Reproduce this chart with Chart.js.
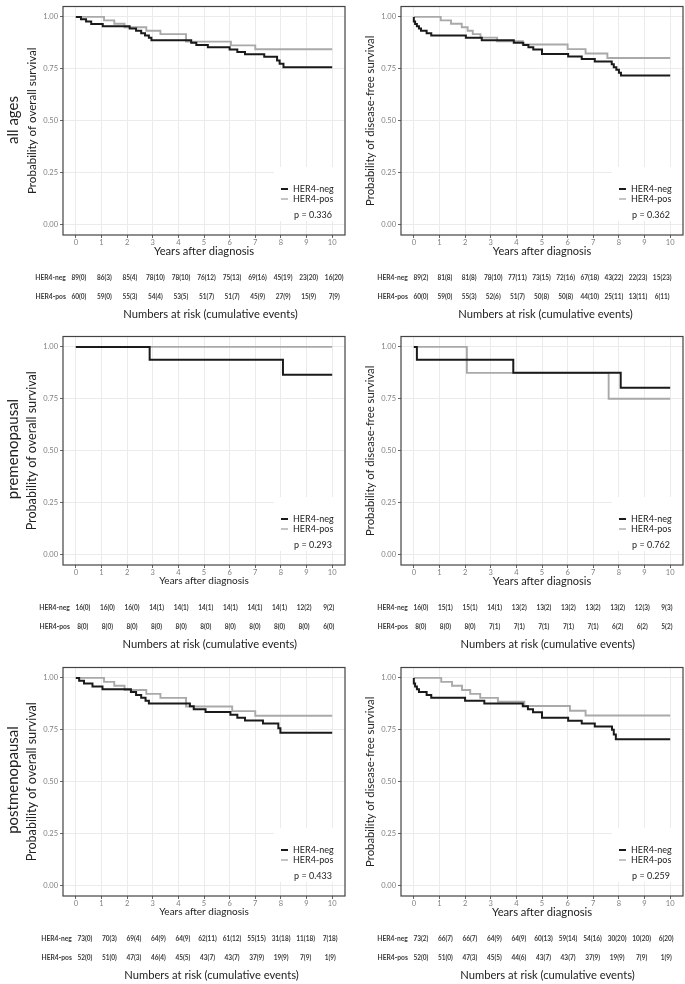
<!DOCTYPE html>
<html>
<head>
<meta charset="utf-8">
<title>HER4 survival curves</title>
<script src="https://cdn.jsdelivr.net/npm/chart.js@4.4.1/dist/chart.umd.min.js"></script>
<style>
  body { margin: 0; width: 685px; height: 984px; position: relative; overflow: hidden; background: #fff; font-family: Lato, sans-serif; }
  canvas { position: absolute; }
  .rowLabel { position: absolute; left: 12px; transform: translate(-50%, -50%) rotate(-90deg); font-size: 15px; color: #222; white-space: nowrap; }
</style>
</head>
<body>
<canvas id="osAll" width="327" height="323" style="left:20px;top:0px"></canvas>
<canvas id="dfsAll" width="327" height="323" style="left:358px;top:0px"></canvas>
<canvas id="osPre" width="327" height="323" style="left:20px;top:330px"></canvas>
<canvas id="dfsPre" width="327" height="323" style="left:358px;top:330px"></canvas>
<canvas id="osPost" width="327" height="323" style="left:20px;top:661px"></canvas>
<canvas id="dfsPost" width="327" height="323" style="left:358px;top:661px"></canvas>
<div class="rowLabel" style="top:120px">all ages</div>
<div class="rowLabel" style="top:449px">premenopausal</div>
<div class="rowLabel" style="top:780px">postmenopausal</div>

<script>
// axes
const xTicks = [0, 1, 2, 3, 4, 5, 6, 7, 8, 9, 10];
const yTicks = [0, 0.25, 0.5, 0.75, 1];
const groupLabels = ['HER4-neg', 'HER4-pos'];
const pValues = [0.336, 0.362, 0.293, 0.762, 0.433, 0.259];

// overall survival, all ages
const osAllNegTime = [0, 0.2, 0.4, 0.6, 1.05, 2.1, 2.35, 2.55, 2.7, 2.85, 2.95, 4.5, 4.7, 5.15, 6.0, 6.3, 6.6, 7.35, 7.85, 7.95, 8.1, 10];
const osAllNegSurv = [1, 0.989, 0.978, 0.966, 0.955, 0.944, 0.933, 0.921, 0.910, 0.899, 0.888, 0.876, 0.865, 0.854, 0.843, 0.831, 0.820, 0.808, 0.790, 0.775, 0.757, 0.757];
const osAllPosTime = [0, 1.1, 1.5, 1.9, 2.75, 3.3, 4.3, 6.05, 7.0, 10];
const osAllPosSurv = [1, 0.983, 0.967, 0.950, 0.933, 0.917, 0.881, 0.863, 0.844, 0.844];
const osAllNegRisk = [89, 86, 85, 78, 78, 76, 75, 69, 45, 23, 16];
const osAllNegEvents = [0, 3, 4, 10, 10, 12, 13, 16, 19, 20, 20];
const osAllPosRisk = [60, 59, 55, 54, 53, 51, 51, 45, 27, 15, 7];
const osAllPosEvents = [0, 0, 3, 4, 5, 7, 7, 9, 9, 9, 9];

// disease-free survival, all ages
const dfsAllNegTime = [0, 0, 0.05, 0.12, 0.2, 0.28, 0.5, 0.68, 2.03, 2.65, 3.9, 4.27, 4.47, 4.66, 5.0, 6.02, 6.55, 7.06, 7.72, 7.8, 7.9, 8.0, 8.08, 10];
const dfsAllNegSurv = [1, 0.978, 0.966, 0.955, 0.944, 0.933, 0.921, 0.910, 0.899, 0.888, 0.876, 0.865, 0.854, 0.843, 0.821, 0.809, 0.797, 0.785, 0.772, 0.758, 0.745, 0.731, 0.718, 0.718];
const dfsAllPosTime = [0, 1.05, 1.45, 1.87, 2.1, 2.3, 2.6, 3.25, 4.25, 6.0, 6.7, 7.55, 10];
const dfsAllPosSurv = [1, 0.983, 0.967, 0.950, 0.933, 0.917, 0.900, 0.883, 0.867, 0.845, 0.824, 0.802, 0.802];
const dfsAllNegRisk = [89, 81, 81, 78, 77, 73, 72, 67, 43, 22, 15];
const dfsAllNegEvents = [2, 8, 8, 10, 11, 15, 16, 18, 22, 23, 23];
const dfsAllPosRisk = [60, 59, 55, 52, 51, 50, 50, 44, 25, 13, 6];
const dfsAllPosEvents = [0, 0, 3, 6, 7, 8, 8, 10, 11, 11, 11];

// overall survival, premenopausal
const osPreNegTime = [0, 2.88, 8.08, 10];
const osPreNegSurv = [1, 0.9375, 0.866, 0.866];
const osPrePosTime = [0, 10];
const osPrePosSurv = [1, 1];
const osPreNegRisk = [16, 16, 16, 14, 14, 14, 14, 14, 14, 12, 9];
const osPreNegEvents = [0, 0, 0, 1, 1, 1, 1, 1, 1, 2, 2];
const osPrePosRisk = [8, 8, 8, 8, 8, 8, 8, 8, 8, 8, 6];
const osPrePosEvents = [0, 0, 0, 0, 0, 0, 0, 0, 0, 0, 0];

// disease-free survival, premenopausal
const dfsPreNegTime = [0, 0.12, 3.88, 8.07, 10];
const dfsPreNegSurv = [1, 0.9375, 0.875, 0.803, 0.803];
const dfsPrePosTime = [0, 2.07, 7.6, 10];
const dfsPrePosSurv = [1, 0.875, 0.75, 0.75];
const dfsPreNegRisk = [16, 15, 15, 14, 13, 13, 13, 13, 13, 12, 9];
const dfsPreNegEvents = [0, 1, 1, 1, 2, 2, 2, 2, 2, 3, 3];
const dfsPrePosRisk = [8, 8, 8, 7, 7, 7, 7, 7, 6, 6, 5];
const dfsPrePosEvents = [0, 0, 0, 1, 1, 1, 1, 1, 2, 2, 2];

// overall survival, postmenopausal
const osPostNegTime = [0, 0.13, 0.32, 0.65, 1.04, 2.15, 2.35, 2.55, 2.72, 2.85, 4.45, 4.6, 5.06, 6.03, 6.3, 6.6, 7.3, 7.9, 7.98, 10];
const osPostNegSurv = [1, 0.986, 0.973, 0.959, 0.945, 0.932, 0.918, 0.904, 0.890, 0.877, 0.863, 0.849, 0.836, 0.822, 0.808, 0.795, 0.780, 0.758, 0.736, 0.736];
const osPostPosTime = [0, 1.1, 1.5, 1.9, 2.75, 3.3, 4.3, 6.1, 7.0, 10];
const osPostPosSurv = [1, 0.981, 0.962, 0.942, 0.923, 0.904, 0.862, 0.840, 0.818, 0.818];
const osPostNegRisk = [73, 70, 69, 64, 64, 62, 61, 55, 31, 11, 7];
const osPostNegEvents = [0, 3, 4, 9, 9, 11, 12, 15, 18, 18, 18];
const osPostPosRisk = [52, 51, 47, 46, 45, 43, 43, 37, 19, 7, 1];
const osPostPosEvents = [0, 0, 3, 4, 5, 7, 7, 9, 9, 9, 9];

// disease-free survival, postmenopausal
const dfsPostNegTime = [0, 0, 0.05, 0.12, 0.2, 0.5, 0.68, 2.0, 2.75, 4.25, 4.45, 4.65, 5.0, 6.02, 6.55, 7.06, 7.73, 7.8, 7.88, 10];
const dfsPostNegSurv = [1, 0.973, 0.959, 0.945, 0.932, 0.918, 0.904, 0.890, 0.877, 0.863, 0.849, 0.835, 0.808, 0.794, 0.780, 0.766, 0.750, 0.727, 0.704, 0.704];
const dfsPostPosTime = [0, 1.07, 1.49, 1.88, 2.2, 2.59, 3.28, 4.31, 6.09, 6.7, 10];
const dfsPostPosSurv = [1, 0.981, 0.962, 0.942, 0.923, 0.904, 0.885, 0.865, 0.842, 0.819, 0.819];
const dfsPostNegRisk = [73, 66, 66, 64, 64, 60, 59, 54, 30, 10, 6];
const dfsPostNegEvents = [2, 7, 7, 9, 9, 13, 14, 16, 20, 20, 20];
const dfsPostPosRisk = [52, 51, 47, 45, 44, 43, 43, 37, 19, 7, 1];
const dfsPostPosEvents = [0, 0, 3, 5, 6, 7, 7, 9, 9, 9, 9];

const negColor = '#1a1a1a';
const posColor = '#a9a9a9';
const osTitle = 'Probability of overall survival';
const dfsTitle = 'Probability of disease-free survival';

// panel layout
const panels = [
    { id: 'osAll', yTitle: osTitle, yTitleSize: 11.6, xTitleSize: 11.2, shift: [3, 2], p: pValues[0],
      neg: [osAllNegTime, osAllNegSurv, osAllNegRisk, osAllNegEvents], pos: [osAllPosTime, osAllPosSurv, osAllPosRisk, osAllPosEvents] },
    { id: 'dfsAll', yTitle: dfsTitle, yTitleSize: 11.3, xTitleSize: 11, shift: [7, -8], p: pValues[1],
      neg: [dfsAllNegTime, dfsAllNegSurv, dfsAllNegRisk, dfsAllNegEvents], pos: [dfsAllPosTime, dfsAllPosSurv, dfsAllPosRisk, dfsAllPosEvents] },
    { id: 'osPre', yTitle: osTitle, yTitleSize: 12.6, xTitleSize: 10, shift: [7, -3.5], p: pValues[2],
      neg: [osPreNegTime, osPreNegSurv, osPreNegRisk, osPreNegEvents], pos: [osPrePosTime, osPrePosSurv, osPrePosRisk, osPrePosEvents] },
    { id: 'dfsPre', yTitle: dfsTitle, yTitleSize: 11.3, xTitleSize: 11, shift: [7, -3.3], p: pValues[3],
      neg: [dfsPreNegTime, dfsPreNegSurv, dfsPreNegRisk, dfsPreNegEvents], pos: [dfsPrePosTime, dfsPrePosSurv, dfsPrePosRisk, dfsPrePosEvents] },
    { id: 'osPost', yTitle: osTitle, yTitleSize: 12.6, xTitleSize: 10, shift: [9, -2], p: pValues[4],
      neg: [osPostNegTime, osPostNegSurv, osPostNegRisk, osPostNegEvents], pos: [osPostPosTime, osPostPosSurv, osPostPosRisk, osPostPosEvents] },
    { id: 'dfsPost', yTitle: dfsTitle, yTitleSize: 11.3, xTitleSize: 11.2, shift: [7, -4], p: pValues[5],
      neg: [dfsPostNegTime, dfsPostNegSurv, dfsPostNegRisk, dfsPostNegEvents], pos: [dfsPostPosTime, dfsPostPosSurv, dfsPostPosRisk, dfsPostPosEvents] }
];

function toSteps(time, surv) {
    return time.map((t, i) => ({ x: t, y: surv[i] }));
}

// legend inside panel, box frame and risk table under the axis
const kmExtras = {
    id: 'kmExtras',
    afterDatasetsDraw(chart, args, o) {
        const { ctx, chartArea: a } = chart;
        ctx.save();
        ctx.fillStyle = '#fff';
        ctx.fillRect(a.right - 71, a.bottom - 68, 71, 54);
        ctx.font = '9px Lato';
        ctx.textBaseline = 'middle';
        chart.data.datasets.forEach((ds, i) => {
            const y = a.bottom - 46 + i * 10;
            ctx.strokeStyle = ds.borderColor;
            ctx.lineWidth = i === 0 ? 2 : 1.4;
            ctx.beginPath();
            ctx.moveTo(a.right - 64, y);
            ctx.lineTo(a.right - 57, y);
            ctx.stroke();
            ctx.fillStyle = '#222';
            ctx.textAlign = 'left';
            ctx.fillText(ds.label, a.right - 52, y);
        });
        ctx.textAlign = 'right';
        ctx.fillText('p = ' + o.p.toFixed(3), a.right - 13, a.bottom - 20);
        ctx.restore();
    },
    afterDraw(chart, args, o) {
        const { ctx, chartArea: a } = chart;
        const x = chart.scales.x;
        ctx.save();
        ctx.strokeStyle = '#444';
        ctx.lineWidth = 1.2;
        ctx.strokeRect(a.left, a.top, a.width, a.height);

        const n = xTicks.length - 1;
        const colX = i => x.getPixelForValue(xTicks[i]) + o.shift[0] + (o.shift[1] - o.shift[0]) * i / n;
        const rows = [[o.negRisk, o.negEvents], [o.posRisk, o.posEvents]];
        ctx.fillStyle = '#3a3a3a';
        ctx.textBaseline = 'middle';
        rows.forEach((r, k) => {
            const y = a.bottom + 43 + k * 18.5;
            ctx.font = 'bold 6.7px Lato';
            ctx.textAlign = 'right';
            ctx.fillText(groupLabels[k], colX(0) - 13, y);
            ctx.font = 'bold 6.5px Lato';
            ctx.textAlign = 'center';
            r[0].forEach((v, i) => ctx.fillText(v + '(' + r[1][i] + ')', colX(i), y));
        });
        ctx.fillStyle = '#222';
        ctx.font = '11.2px Lato';
        ctx.fillText('Numbers at risk (cumulative events)', (colX(0) + colX(n)) / 2 + 4, a.bottom + 79);
        ctx.restore();
    }
};

function makePanel(p) {
    const ctx = document.getElementById(p.id).getContext('2d');
    return new Chart(ctx, {
        type: 'line',
        data: {
            datasets: [{
                label: groupLabels[0],
                data: toSteps(p.neg[0], p.neg[1]),
                borderColor: negColor,
                borderWidth: 2
            }, {
                label: groupLabels[1],
                data: toSteps(p.pos[0], p.pos[1]),
                borderColor: posColor,
                borderWidth: 1.9
            }]
        },
        options: {
            responsive: false,
            animation: false,
            events: [],
            elements: {
                line: { stepped: 'before', tension: 0, fill: false, borderCapStyle: 'butt' },
                point: { radius: 0 }
            },
            layout: { autoPadding: false, padding: { top: 2, right: 2, bottom: 64, left: 0 } },
            scales: {
                x: {
                    type: 'linear',
                    min: -0.5,
                    max: 10.5,
                    afterBuildTicks: s => { s.ticks = xTicks.map(v => ({ value: v })); },
                    afterFit: s => { s.height = 24; },
                    grid: { color: '#ebebeb', lineWidth: 1, tickLength: 3, tickColor: '#666' },
                    border: { display: false },
                    ticks: { font: { size: 7.5 }, color: '#808080', padding: 0, maxRotation: 0, autoSkip: false },
                    title: { display: true, text: 'Years after diagnosis', color: '#222',
                             font: { size: p.xTitleSize }, padding: { top: 0, bottom: Math.max(0, 8 - p.xTitleSize * 0.6) } }
                },
                y: {
                    min: -0.05,
                    max: 1.05,
                    afterBuildTicks: s => { s.ticks = yTicks.map(v => ({ value: v })); },
                    afterFit: s => { s.width = 43; },
                    grid: { color: '#ebebeb', lineWidth: 1, tickLength: 3, tickColor: '#666' },
                    border: { display: false },
                    ticks: { font: { size: 7.5 }, color: '#808080', padding: 2, callback: v => v.toFixed(2) },
                    title: { display: true, text: p.yTitle, color: '#222',
                             font: { size: p.yTitleSize }, padding: { top: 12 - p.yTitleSize * 0.6, bottom: 0 } }
                }
            },
            plugins: {
                legend: { display: false },
                tooltip: { enabled: false },
                kmExtras: {
                    p: p.p,
                    shift: p.shift,
                    negRisk: p.neg[2], negEvents: p.neg[3],
                    posRisk: p.pos[2], posEvents: p.pos[3]
                }
            }
        },
        plugins: [kmExtras]
    });
}

Chart.defaults.font.family = 'Lato';

document.fonts.load('12px Lato').catch(() => null).then(() => {
    panels.forEach(makePanel);
});
</script>
</body>
</html>
